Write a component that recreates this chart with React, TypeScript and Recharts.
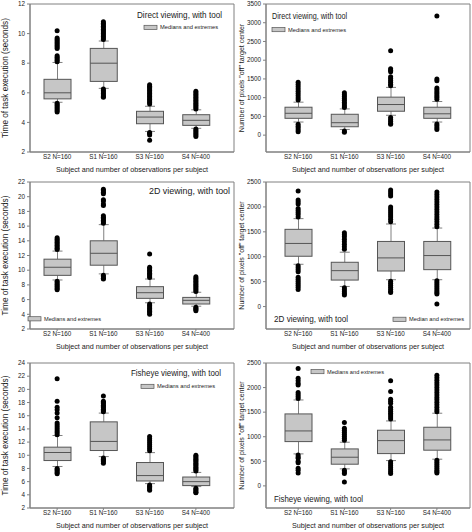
import React from "react";
import {
  Bar,
  CartesianGrid,
  ComposedChart,
  Label,
  Scatter,
  XAxis,
  YAxis,
} from "recharts";

const categories = ["S2 N=160", "S1 N=160", "S3 N=160", "S4 N=400"];

const timeTicks1 = [2, 4, 6, 8, 10, 12];
const timeTicks2 = [2, 4, 6, 8, 10, 12, 14, 16, 18, 20, 22];
const timeTicks3 = [2, 4, 6, 8, 10, 12, 14, 16, 18, 20, 22, 24];
const pixelTicks1 = [0, 500, 1000, 1500, 2000, 2500, 3000, 3500];
const pixelTicks2 = [0, 500, 1000, 1500, 2000, 2500];

// Direct viewing, time (seconds)
const directTimeQ1 = [5.59, 6.77, 3.91, 3.8];
const directTimeMedian = [6.0, 8.0, 4.36, 4.14];
const directTimeQ3 = [6.91, 9.0, 4.75, 4.52];
const directTimeLow = [5.36, 6.3, 3.39, 3.6];
const directTimeHigh = [8.05, 9.5, 5.09, 4.85];
const directTimeOutliers = [
  [10.2, 9.7, 9.6, 9.5, 9.4, 9.3, 9.2, 9.1, 9.0, 8.5, 8.4, 8.3, 8.2, 8.1, 5.3, 5.2, 5.1, 5.0, 4.9, 4.8, 4.7],
  [10.8, 10.7, 10.6, 10.5, 10.4, 10.3, 10.2, 10.1, 10.0, 9.9, 9.8, 9.7, 9.6, 6.25, 6.15, 6.05, 5.95, 5.85, 5.75, 5.7],
  [6.55, 6.45, 6.35, 6.25, 6.15, 6.05, 5.95, 5.85, 5.75, 5.65, 5.55, 5.45, 5.35, 5.25, 3.32, 3.25, 3.15, 2.8],
  [6.1, 6.0, 5.9, 5.8, 5.7, 5.6, 5.5, 5.4, 5.3, 5.2, 5.1, 5.0, 4.9, 3.55, 3.45, 3.35, 3.25, 3.15, 3.05],
];

// Direct viewing, pixels off target
const directPixQ1 = [449, 224, 638, 449];
const directPixMedian = [583, 332, 817, 570];
const directPixQ3 = [745, 557, 1014, 745];
const directPixLow = [350, 152, 530, 350];
const directPixHigh = [880, 700, 1274, 897];
const directPixOutliers = [
  [1410, 1350, 1290, 1230, 1170, 1110, 1050, 990, 940, 290, 240, 190, 140, 90],
  [1130, 1080, 1030, 980, 930, 880, 830, 780, 740, 110, 80],
  [2250, 1770, 1730, 1690, 1560, 1510, 1460, 1410, 1360, 1320, 470, 420, 370, 320, 290],
  [3180, 1500, 1450, 1260, 1210, 1160, 1110, 1060, 1010, 960, 300, 250, 200, 150],
];

// 2D viewing, time (seconds)
const twoDTimeQ1 = [9.3, 10.68, 6.17, 5.4];
const twoDTimeMedian = [10.4, 12.3, 6.94, 5.9];
const twoDTimeQ3 = [11.5, 14.0, 7.76, 6.3];
const twoDTimeLow = [8.67, 9.5, 5.57, 5.1];
const twoDTimeHigh = [12.6, 16.2, 8.8, 7.0];
const twoDTimeOutliers = [
  [14.4, 14.2, 14.0, 13.8, 13.6, 13.4, 13.2, 13.0, 12.8, 8.5, 8.3, 8.1, 7.9, 7.7, 7.5, 7.35],
  [21.0, 20.8, 20.6, 20.4, 19.6, 19.4, 19.0, 18.8, 17.4, 17.2, 17.0, 16.8, 16.6, 16.4, 9.3, 9.1, 8.9, 8.8],
  [12.2, 10.4, 10.2, 10.0, 9.8, 9.6, 9.4, 9.2, 9.0, 5.4, 5.2, 5.0, 4.8, 4.6, 4.4, 4.2, 4.0],
  [9.1, 8.9, 8.7, 8.5, 8.3, 8.1, 7.9, 7.7, 7.5, 7.3, 7.1, 4.95, 4.8, 4.65, 4.5],
];

// 2D viewing, pixels off target
const twoDPixQ1 = [1010, 532, 714, 741];
const twoDPixMedian = [1267, 721, 977, 1024];
const twoDPixQ3 = [1550, 889, 1307, 1307];
const twoDPixLow = [849, 404, 539, 539];
const twoDPixHigh = [1765, 1091, 1657, 1576];
const twoDPixOutliers = [
  [2318, 2140, 2100, 2060, 1970, 1930, 1890, 1850, 1800, 820, 780, 740, 700, 590, 550, 510, 470, 430, 390, 345],
  [1480, 1440, 1400, 1350, 1300, 1250, 1200, 1150, 380, 340, 300, 260, 230],
  [2340, 2300, 2260, 2220, 2000, 1960, 1920, 1880, 1840, 1800, 1750, 1700, 510, 470, 430, 390, 350, 310, 280],
  [2300, 2250, 2200, 2150, 2100, 2050, 2000, 1950, 1900, 1850, 1800, 1750, 1700, 1650, 1600, 520, 480, 440, 400, 360, 320, 280, 250, 50],
];

// Fisheye viewing, time (seconds)
const fishTimeQ1 = [9.2, 10.72, 6.1, 5.4];
const fishTimeMedian = [10.42, 12.1, 6.92, 6.0];
const fishTimeQ3 = [11.23, 15.07, 8.9, 6.7];
const fishTimeLow = [8.3, 9.8, 5.7, 5.25];
const fishTimeHigh = [13.0, 16.4, 10.4, 7.4];
const fishTimeOutliers = [
  [21.6, 18.2, 17.3, 16.9, 16.4, 15.7, 14.9, 14.6, 14.3, 14.0, 13.7, 13.4, 13.1, 8.0, 7.8, 7.6, 7.4, 7.2],
  [19.0, 18.2, 18.0, 17.8, 17.6, 17.4, 17.2, 17.0, 16.8, 16.6, 9.6, 9.4, 9.2, 9.0, 8.8],
  [12.85, 12.5, 12.2, 11.9, 11.6, 11.3, 11.0, 10.7, 5.5, 5.3, 5.1, 4.9, 4.7],
  [10.0, 9.8, 9.6, 9.4, 9.2, 9.0, 8.8, 8.6, 8.4, 8.2, 8.0, 7.8, 7.6, 5.0, 4.8, 4.6, 4.4, 4.3],
];

// Fisheye viewing, pixels off target
const fishPixQ1 = [901, 441, 657, 726];
const fishPixMedian = [1118, 583, 921, 935];
const fishPixQ3 = [1464, 752, 1132, 1193];
const fishPixLow = [651, 346, 515, 543];
const fishPixHigh = [1748, 888, 1321, 1478];
const fishPixOutliers = [
  [2390, 2190, 2140, 2090, 2050, 1900, 1860, 1820, 1780, 630, 590, 560, 500, 470, 360, 320, 260],
  [1290, 1170, 1130, 1090, 1050, 1010, 970, 930, 320, 280, 250, 80],
  [2140, 1920, 1760, 1720, 1680, 1600, 1560, 1520, 1480, 1440, 1400, 1360, 490, 450, 410, 370, 330, 290, 250],
  [2250, 2200, 2150, 2100, 2050, 2000, 1950, 1900, 1850, 1800, 1750, 1700, 1650, 1600, 1550, 1510, 520, 480, 440, 400, 360, 320, 290, 260],
];

const FRAME = "#808080";
const TEXT = "#1a1a1a";
const BOX_FILL = "#c6c6c6";
const BOX_STROKE = "#555";
const FONT = "'Liberation Sans', Arial, sans-serif";
const TIME_LABEL = "Time of task execution (seconds)";
const PIX_LABEL = 'Number of pixels "off" target center';
const X_LABEL = "Subject and number of observations per subject";

function buildRows(q1: number[], med: number[], q3: number[], lo: number[], hi: number[]) {
  return categories.map((name, i) => ({
    name,
    box: [q1[i], q3[i]],
    median: med[i],
    wLow: lo[i],
    wHigh: hi[i],
  }));
}

function buildOutliers(out: number[][]) {
  return out.flatMap((vals, i) => vals.map((v) => ({ name: categories[i], v })));
}

// box, median and whiskers, positioned from the bar the library placed for [q1, q3]
function BoxShape(props: any) {
  const { x, y, width, height, payload } = props;
  const [lo, hi] = payload.box;
  const top = Math.min(y, y + height);
  const h = Math.abs(height);
  const k = h / (hi - lo);
  const py = (v: number) => top + (hi - v) * k;
  const cx = x + width / 2;
  const cap = 5;
  const yHigh = py(payload.wHigh);
  const yLow = py(payload.wLow);
  const yMed = py(payload.median);
  return (
    <g>
      <line x1={cx} x2={cx} y1={yHigh} y2={top} stroke={FRAME} />
      <line x1={cx} x2={cx} y1={top + h} y2={yLow} stroke={FRAME} />
      <line x1={cx - cap} x2={cx + cap} y1={yHigh} y2={yHigh} stroke={FRAME} />
      <line x1={cx - cap} x2={cx + cap} y1={yLow} y2={yLow} stroke={FRAME} />
      <rect x={x} y={top} width={width} height={h} fill={BOX_FILL} stroke={BOX_STROKE} strokeWidth={1} />
      <line x1={x} x2={x + width} y1={yMed} y2={yMed} stroke={BOX_STROKE} strokeWidth={1} />
    </g>
  );
}

function OutlierDot(props: any) {
  const { cx, cy } = props;
  return <circle cx={cx} cy={cy} r={2.5} fill="#000" />;
}

interface PanelProps {
  left: number;
  top: number;
  height: number;
  marginTop: number;
  rows: any[];
  outliers: any[];
  domain: [number, number];
  ticks: number[];
  yLabel: string;
  yLabelSize: number;
  padding: { left: number; right: number };
}

function BoxPanel(p: PanelProps) {
  return (
    <div style={{ position: "absolute", left: p.left, top: p.top }}>
      <ComposedChart
        width={236}
        height={p.height}
        data={p.rows}
        margin={{ top: p.marginTop, right: 2, bottom: 0, left: 0 }}
      >
        <CartesianGrid
          stroke={FRAME}
          horizontalCoordinatesGenerator={({ offset }: any) => [offset.top, offset.top + offset.height]}
          verticalCoordinatesGenerator={({ offset }: any) => [offset.left, offset.left + offset.width]}
        />
        <XAxis
          dataKey="name"
          type="category"
          allowDuplicatedCategory={false}
          padding={p.padding}
          height={24}
          tickSize={2}
          tickMargin={1}
          interval={0}
          stroke={FRAME}
          tick={{ fontSize: 6.3, fill: TEXT, stroke: "none" }}
        >
          <Label
            value={X_LABEL}
            position="insideBottom"
            offset={4}
            fill={TEXT}
            style={{ fontSize: 7.2, fill: TEXT, stroke: "none" }}
          />
        </XAxis>
        <YAxis
          type="number"
          domain={p.domain}
          ticks={p.ticks}
          allowDataOverflow
          width={30}
          tickSize={3}
          tickMargin={2}
          interval={0}
          stroke={FRAME}
          tick={{ fontSize: 6.3, fill: TEXT, stroke: "none" }}
        >
          <Label
            value={p.yLabel}
            angle={-90}
            position="insideLeft"
            offset={5.5}
            fill={TEXT}
            style={{ textAnchor: "middle", fontSize: p.yLabelSize, fill: TEXT, stroke: "none" }}
          />
        </YAxis>
        <Bar dataKey="box" barSize={27} shape={BoxShape} isAnimationActive={false} />
        <Scatter data={p.outliers} dataKey="v" shape={OutlierDot} isAnimationActive={false} />
      </ComposedChart>
    </div>
  );
}

function Title({ x, y, text, size, len }: { x: number; y: number; text: string; size: number; len: number }) {
  return (
    <text x={x} y={y} fontSize={size} fill={TEXT} textLength={len} lengthAdjust="spacingAndGlyphs">
      {text}
    </text>
  );
}

function LegendKey({ x, y, text, len }: { x: number; y: number; text: string; len: number }) {
  return (
    <g>
      <rect x={x} y={y - 2} width={13} height={4.2} fill={BOX_FILL} stroke={BOX_STROKE} strokeWidth={0.7} />
      <text x={x + 16} y={y + 2} fontSize={6} fill={TEXT} textLength={len} lengthAdjust="spacingAndGlyphs">
        {text}
      </text>
    </g>
  );
}

const leftPad = { left: 4, right: 15 };
const rightPad = { left: 9, right: 10 };

export default function App() {
  return (
    <div style={{ position: "relative", width: 472, height: 532, fontFamily: FONT, background: "#fff" }}>
      <style>{"body{margin:0}"}</style>
      <BoxPanel left={0} top={0} height={176} marginTop={4}
        rows={buildRows(directTimeQ1, directTimeMedian, directTimeQ3, directTimeLow, directTimeHigh)}
        outliers={buildOutliers(directTimeOutliers)} domain={[2, 12]} ticks={timeTicks1}
        yLabel={TIME_LABEL} yLabelSize={8.2} padding={leftPad} />
      <BoxPanel left={236} top={0} height={176} marginTop={4}
        rows={buildRows(directPixQ1, directPixMedian, directPixQ3, directPixLow, directPixHigh)}
        outliers={buildOutliers(directPixOutliers)} domain={[-450, 3500]} ticks={pixelTicks1}
        yLabel={PIX_LABEL} yLabelSize={7} padding={rightPad} />
      <BoxPanel left={0} top={176} height={177} marginTop={6}
        rows={buildRows(twoDTimeQ1, twoDTimeMedian, twoDTimeQ3, twoDTimeLow, twoDTimeHigh)}
        outliers={buildOutliers(twoDTimeOutliers)} domain={[2, 22]} ticks={timeTicks2}
        yLabel={TIME_LABEL} yLabelSize={8.2} padding={leftPad} />
      <BoxPanel left={236} top={176} height={177} marginTop={6}
        rows={buildRows(twoDPixQ1, twoDPixMedian, twoDPixQ3, twoDPixLow, twoDPixHigh)}
        outliers={buildOutliers(twoDPixOutliers)} domain={[-450, 2500]} ticks={pixelTicks2}
        yLabel={PIX_LABEL} yLabelSize={7} padding={rightPad} />
      <BoxPanel left={0} top={352} height={180} marginTop={11}
        rows={buildRows(fishTimeQ1, fishTimeMedian, fishTimeQ3, fishTimeLow, fishTimeHigh)}
        outliers={buildOutliers(fishTimeOutliers)} domain={[2, 24]} ticks={timeTicks3}
        yLabel={TIME_LABEL} yLabelSize={8.2} padding={leftPad} />
      <BoxPanel left={236} top={352} height={180} marginTop={11}
        rows={buildRows(fishPixQ1, fishPixMedian, fishPixQ3, fishPixLow, fishPixHigh)}
        outliers={buildOutliers(fishPixOutliers)} domain={[-450, 2500]} ticks={pixelTicks2}
        yLabel={PIX_LABEL} yLabelSize={7} padding={rightPad} />
      <svg width={472} height={532} style={{ position: "absolute", left: 0, top: 0, pointerEvents: "none" }}>
        <Title x={137} y={17.6} text="Direct viewing, with tool" size={8.2} len={85} />
        <LegendKey x={144} y={27.3} text="Medians and extremes" len={58} />
        <Title x={272} y={19} text="Direct viewing, with tool" size={9.3} len={75} />
        <LegendKey x={272} y={29.5} text="Medians and extremes" len={58} />
        <Title x={149} y={193.6} text="2D viewing, with tool" size={8.2} len={81} />
        <LegendKey x={28} y={318.7} text="Medians and extremes" len={57} />
        <Title x={274} y={321.5} text="2D viewing, with tool" size={9.3} len={74} />
        <LegendKey x={393} y={319.2} text="Median and extremes" len={55} />
        <Title x={131} y={375.6} text="Fisheye viewing, with tool" size={8.2} len={90} />
        <LegendKey x={141} y={386.3} text="Medians and extremes" len={58} />
        <Title x={274} y={501.5} text="Fisheye viewing, with tool" size={9.3} len={89} />
        <LegendKey x={311} y={371.5} text="Medians and extremes" len={57} />
      </svg>
    </div>
  );
}
